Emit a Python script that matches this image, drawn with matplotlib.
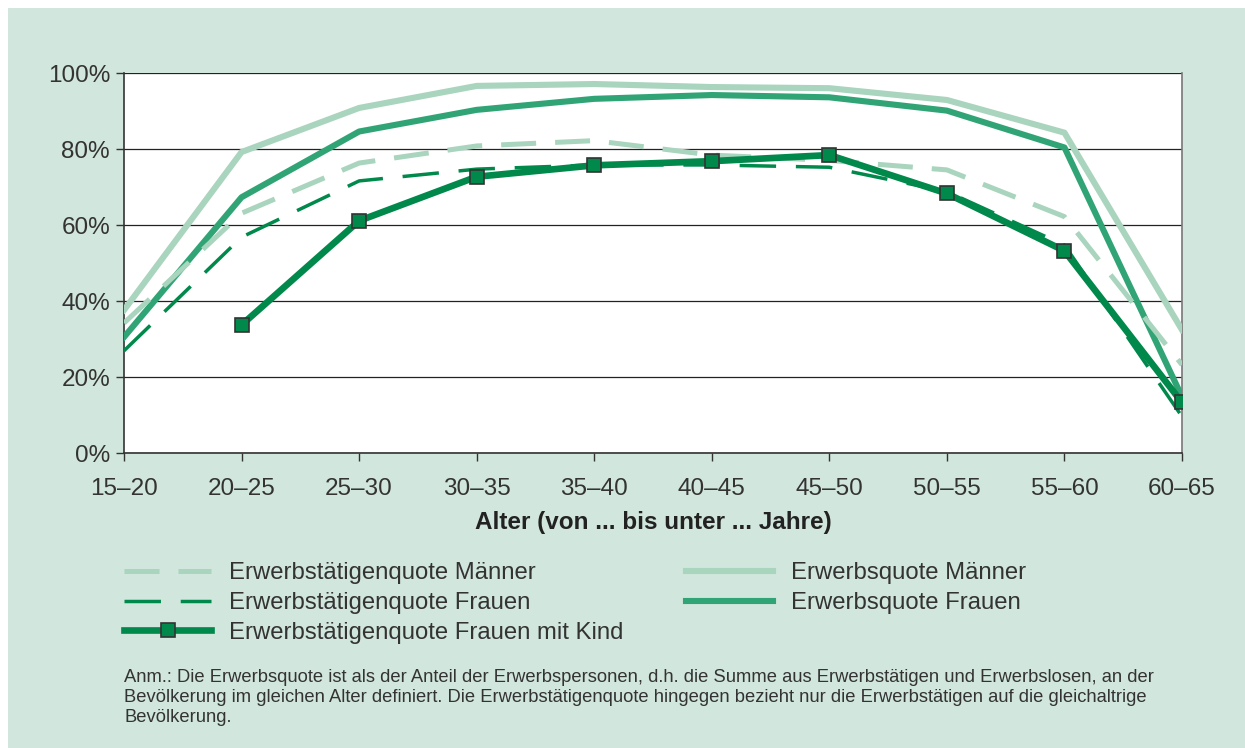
import matplotlib.pyplot as plt
from matplotlib.patches import Rectangle

# Daten (Anteil in %)
altersgruppen = ["15–20", "20–25", "25–30", "30–35", "35–40",
                 "40–45", "45–50", "50–55", "55–60", "60–65"]
erwerbsquote_maenner = [37.6, 79.2, 90.8, 96.6, 97.1, 96.3, 96.0, 92.9, 84.3, 32.4]
erwerbsquote_frauen = [30.5, 67.3, 84.6, 90.3, 93.2, 94.2, 93.6, 90.1, 80.4, 14.8]
etq_maenner = [34.2, 63.1, 76.3, 80.8, 82.2, 78.4, 77.0, 74.5, 62.2, 23.2]
etq_frauen = [26.9, 56.8, 71.6, 74.7, 75.8, 75.8, 75.2, 68.8, 54.7, 9.6]
etq_frauen_kind = [None, 33.7, 61.1, 72.7, 75.7, 76.8, 78.4, 68.3, 53.2, 13.3]

hell = "#a9d4bd"
mittel = "#31a476"
dunkel = "#00894b"
hintergrund = "#d1e6dc"
text_farbe = "#333333"

plt.rcParams['font.family'] = ['Liberation Sans', 'DejaVu Sans']

fig = plt.figure(figsize=(12.45, 7.48), dpi=100)
fig.patch.set_facecolor("white")
fig.patches.append(Rectangle((8 / 1245, 0), 1, 1 - 8 / 748, transform=fig.transFigure,
                             facecolor=hintergrund, edgecolor="none", zorder=-10))

ax = fig.add_axes([124 / 1245, 1 - 453 / 748, (1182 - 124) / 1245, (453 - 73) / 748])
ax.set_facecolor("white")

x = list(range(len(altersgruppen)))
x_kind = [i for i, v in zip(x, etq_frauen_kind) if v is not None]
y_kind = [v for v in etq_frauen_kind if v is not None]

l1, = ax.plot(x, erwerbsquote_maenner, color=hell, lw=4.4, solid_joinstyle="round", zorder=3)
l2, = ax.plot(x, erwerbsquote_frauen, color=mittel, lw=4.4, solid_joinstyle="round", zorder=4)
l3, = ax.plot(x, etq_maenner, color=hell, lw=3.6, dashes=(7, 3.8), zorder=5)
l4, = ax.plot(x, etq_frauen, color=dunkel, lw=2.5, dashes=(10.5, 5.7), zorder=6)
l5, = ax.plot(x_kind, y_kind, color=dunkel, lw=4.8, marker="s", markersize=9.5,
              markerfacecolor=dunkel, markeredgecolor="#333333", markeredgewidth=1.2,
              solid_joinstyle="round", zorder=7)

ax.set_xlim(0, 9)
ax.set_ylim(0, 100)
ax.set_yticks([0, 20, 40, 60, 80, 100])
ax.set_yticklabels(["0%", "20%", "40%", "60%", "80%", "100%"])
ax.set_xticks(x)
ax.set_xticklabels(altersgruppen)
ax.grid(axis="y", color="#222222", lw=0.9, zorder=1)
ax.tick_params(axis="both", direction="out", length=6, width=1.0, color="#333333",
               labelsize=17.5, labelcolor=text_farbe, pad=4)
ax.tick_params(axis="x", pad=12)
for s in ["left", "bottom"]:
    ax.spines[s].set_color("#333333")
    ax.spines[s].set_linewidth(1.2)
ax.spines["top"].set_visible(False)
ax.spines["right"].set_color("#777777")
ax.spines["right"].set_linewidth(1.2)

ax.set_xlabel("Alter (von ... bis unter ... Jahre)", fontsize=17.5, fontweight="bold",
              color="#222222", labelpad=8)

handles = [l3, l4, l5, l1, l2]
labels = ["Erwerbstätigenquote Männer", "Erwerbstätigenquote Frauen",
          "Erwerbstätigenquote Frauen mit Kind", "Erwerbsquote Männer", "Erwerbsquote Frauen"]
leg = fig.legend(handles, labels, ncol=2, loc="upper left",
                 bbox_to_anchor=(124 / 1245, 1 - 562 / 748), frameon=False,
                 fontsize=17.2, handlelength=3.65, handletextpad=0.76, columnspacing=2.6,
                 labelspacing=0.33, numpoints=1, borderpad=0, borderaxespad=0)
for t in leg.get_texts():
    t.set_color(text_farbe)

anm = ("Anm.: Die Erwerbsquote ist als der Anteil der Erwerbspersonen, d.h. die Summe aus Erwerbstätigen und Erwerbslosen, an der\n"
       "Bevölkerung im gleichen Alter definiert. Die Erwerbstätigenquote hingegen bezieht nur die Erwerbstätigen auf die gleichaltrige\n"
       "Bevölkerung.")
fig.text(124 / 1245, 1 - 669 / 748, anm, fontsize=13.2, color=text_farbe, va="top",
         ha="left", linespacing=1.22)

fig.savefig("out.png", dpi=100, facecolor=fig.get_facecolor())
